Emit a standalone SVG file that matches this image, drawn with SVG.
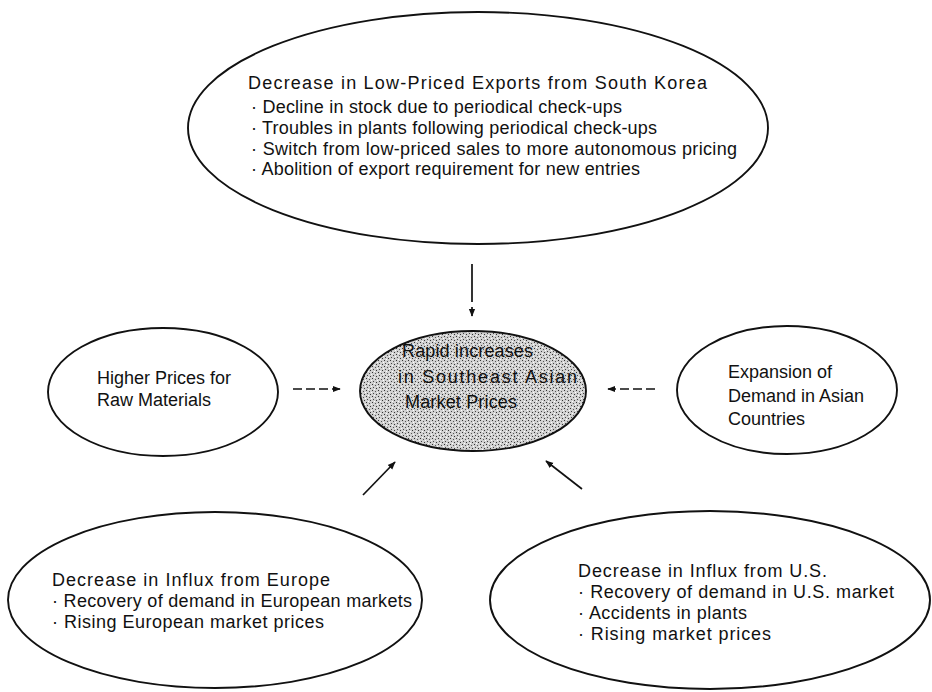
<svg xmlns="http://www.w3.org/2000/svg" width="932" height="692" viewBox="0 0 932 692">
<defs>
<style>
.node{fill:none;stroke:#111;stroke-width:1.9}
.t{font-family:"Liberation Sans",Arial,sans-serif;font-size:18px;fill:#111}
.c{stroke:#111;stroke-width:1.7;fill:none}
</style>
<pattern id="stip" width="6" height="6" patternUnits="userSpaceOnUse">
<rect width="6" height="6" fill="#d0d0d0"/>
<rect x="0" y="0" width="1" height="1" fill="#333"/>
<rect x="3" y="1" width="1" height="1" fill="#555"/>
<rect x="1" y="3" width="1" height="1" fill="#444"/>
<rect x="4" y="4" width="1" height="1" fill="#333"/>
<rect x="5" y="2" width="1" height="1" fill="#fff"/>
<rect x="2" y="5" width="1" height="1" fill="#fff"/>
</pattern>
<marker id="ah" viewBox="0 0 10 10" refX="9" refY="5" markerWidth="8" markerHeight="8" orient="auto" markerUnits="userSpaceOnUse">
<path d="M0,1 L10,5 L0,9 z" fill="#111"/>
</marker>
</defs>
<rect width="932" height="692" fill="#fff"/>

<g id="connectors">
<line class="c" x1="472" y1="264" x2="472" y2="316" stroke-dasharray="38 5" marker-end="url(#ah)"/>
<line class="c" x1="293" y1="389" x2="340" y2="389" stroke-dasharray="9 4" marker-end="url(#ah)"/>
<line class="c" x1="655" y1="389" x2="608" y2="389" stroke-dasharray="9 4" marker-end="url(#ah)"/>
<line class="c" x1="363" y1="495" x2="395" y2="462" marker-end="url(#ah)"/>
<line class="c" x1="582" y1="489" x2="546" y2="461" marker-end="url(#ah)"/>
</g>

<g id="korea">
<ellipse class="node" cx="478" cy="128" rx="290" ry="116"/>
<text class="t" x="248" y="89" textLength="459">Decrease in Low-Priced Exports from South Korea</text>
<text class="t" x="251" y="113" textLength="371">· Decline in stock due to periodical check-ups</text>
<text class="t" x="251" y="134" textLength="406">· Troubles in plants following periodical check-ups</text>
<text class="t" x="251" y="155" textLength="486">· Switch from low-priced sales to more autonomous pricing</text>
<text class="t" x="251" y="175" textLength="389">· Abolition of export requirement for new entries</text>
</g>

<g id="center">
<ellipse cx="473" cy="391" rx="113" ry="60" fill="url(#stip)" stroke="#111" stroke-width="1.9"/>
<text class="t" x="402" y="357" textLength="131">Rapid increases</text>
<text class="t" x="398" y="383" textLength="179">in Southeast Asian</text>
<text class="t" x="405" y="408" textLength="112">Market Prices</text>
</g>

<g id="raw">
<ellipse class="node" cx="163" cy="392" rx="115" ry="64"/>
<text class="t" x="97" y="384">Higher Prices for</text>
<text class="t" x="97" y="406">Raw Materials</text>
</g>

<g id="asia">
<ellipse class="node" cx="787" cy="390" rx="110" ry="64"/>
<text class="t" x="728" y="378">Expansion of</text>
<text class="t" x="728" y="402">Demand in Asian</text>
<text class="t" x="728" y="425">Countries</text>
</g>

<g id="europe">
<ellipse class="node" cx="215" cy="600" rx="207" ry="88"/>
<text class="t" x="52" y="586" textLength="278">Decrease in Influx from Europe</text>
<text class="t" x="52" y="607" textLength="360">· Recovery of demand in European markets</text>
<text class="t" x="52" y="628" textLength="272">· Rising European market prices</text>
</g>

<g id="us">
<ellipse class="node" cx="710" cy="600" rx="220" ry="89"/>
<text class="t" x="578" y="577" textLength="249">Decrease in Influx from U.S.</text>
<text class="t" x="578" y="598" textLength="316">· Recovery of demand in U.S. market</text>
<text class="t" x="578" y="619" textLength="169">· Accidents in plants</text>
<text class="t" x="578" y="640" textLength="193">· Rising market prices</text>
</g>
</svg>
